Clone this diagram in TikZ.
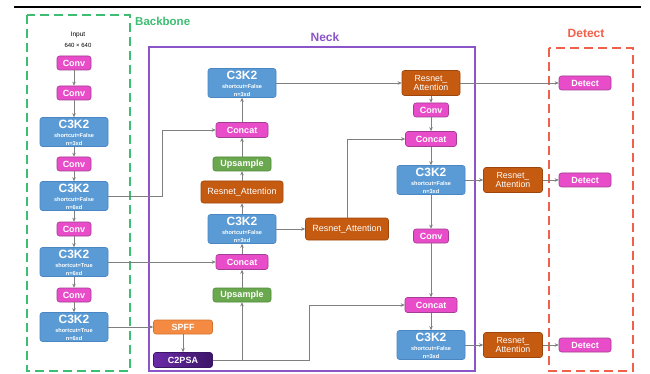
\documentclass[tikz,border=0pt]{standalone}
\usepackage{fontspec}
\setmainfont{Liberation Sans}
\usetikzlibrary{arrows.meta,calc}
\definecolor{cmag}{HTML}{E84CC8}
\definecolor{cmagd}{HTML}{A23C94}
\definecolor{cblue}{HTML}{5B9BD5}
\definecolor{cblued}{HTML}{4A86C2}
\definecolor{cgreen}{HTML}{6AA84F}
\definecolor{cgreend}{HTML}{4E8A38}
\definecolor{cres}{HTML}{C55A11}
\definecolor{cresd}{HTML}{9E470D}
\definecolor{cspff}{HTML}{F58B42}
\definecolor{cspffd}{HTML}{D2742F}
\definecolor{cpsaL}{HTML}{6B2AA8}
\definecolor{cpsaR}{HTML}{3B1566}
\definecolor{cbb}{HTML}{3DBE72}
\definecolor{cneck}{HTML}{8B55C8}
\definecolor{cdet}{HTML}{F0604A}
\definecolor{carr}{HTML}{7F7F7F}
\newcommand{\ckblk}[5]{%
  \node[cbox] (#1) at (#2,#3) {};
  \node[anchor=base, text=white, font=\bfseries\fontsize{12}{12}\selectfont, inner sep=0pt] (#1t) at ($(#1.north)+(0,11)$) {C3K2};
  \node[anchor=base, text=white, font=\bfseries\fontsize{5.6}{6}\selectfont, inner sep=0pt] (#1s) at ($(#1.north)+(0,20)$) {shortcut=#4};
  \node[anchor=base, text=white, font=\bfseries\fontsize{5.6}{6}\selectfont, inner sep=0pt] (#1n) at ($(#1.north)+(0,28.5)$) {n=#5};
}
\begin{document}
\begin{tikzpicture}[x=1pt,y=-1pt,
  box/.style={rounded corners=2.5pt, draw, line width=0.6pt, inner sep=0pt, text=white, font=\bfseries\fontsize{9}{10}\selectfont},
  magbox/.style={box, fill=cmag, draw=cmagd, minimum width=#1, minimum height=14},
  magbox/.default=34,
  cbox/.style={box, fill=cblue, draw=cblued, minimum width=68, minimum height=29},
  upbox/.style={box, fill=cgreen, draw=cgreend, minimum width=58, minimum height=14},
  resbox/.style={box, fill=cres, draw=cresd, font=\fontsize{9}{9.5}\selectfont, align=center},
  arr/.style={draw=carr, line width=0.7pt, -{Stealth[length=4pt,width=3.5pt]}},
  grp/.style={line width=1.4pt},
  ttl/.style={font=\bfseries\fontsize{12}{12}\selectfont, inner sep=0pt}
]
\useasboundingbox (0,0) rectangle (650,374);
\fill[white] (0,0) rectangle (650,374);
\draw[line width=2pt] (14,7) -- (641,7);

% groups
\draw[grp, cbb, dash pattern=on 9pt off 5pt] (27,15) rectangle (130,371);
\draw[line width=1.2pt, cneck] (149,47) rectangle (475,371);
\draw[grp, cdet, dash pattern=on 9pt off 5pt] (549,48) rectangle (633,371);
\node[ttl, text=cbb, font=\bfseries\fontsize{11.5}{12}\selectfont, anchor=west] (lbb) at (135,21) {Backbone};
\node[ttl, text=cneck] (lneck) at (325,37) {Neck};
\node[ttl, text=cdet] (ldet) at (586,33) {Detect};

% backbone
\node[font=\fontsize{6.5}{7}\selectfont, inner sep=0pt] (in1) at (78,35) {Input};
\node[font=\fontsize{6}{7}\selectfont, inner sep=0pt] (in2) at (78,45) {640 × 640};
\node[magbox] (bconv1) at (74,63) {Conv};
\node[magbox] (bconv2) at (74,93) {Conv};
\ckblk{bc1}{74}{132}{False}{3xd}
\node[magbox] (bconv3) at (74,164) {Conv};
\ckblk{bc2}{74}{196}{False}{6xd}
\node[magbox] (bconv4) at (74,229) {Conv};
\ckblk{bc3}{74}{262}{True}{6xd}
\node[magbox] (bconv5) at (74,295) {Conv};
\ckblk{bc4}{74}{327}{True}{6xd}

% neck left column
\ckblk{ntop}{242}{83}{False}{3xd}
\node[magbox=52, minimum height=15] (ncat1) at (242,130) {Concat};
\node[upbox] (nup1) at (242,164) {Upsample};
\node[resbox, minimum width=82, minimum height=22] (nra1) at (242,192) {Resnet\_Attention};
\ckblk{nmid}{242}{229}{False}{3xd}
\node[resbox, minimum width=83, minimum height=22] (nra2) at (347,229) {Resnet\_Attention};
\node[magbox=52, minimum height=15] (ncat2) at (242,262) {Concat};
\node[upbox] (nup2) at (242,295) {Upsample};
\node[box, fill=cspff, draw=cspffd, minimum width=59, minimum height=14] (spff) at (183,327) {SPFF};
\node[box, left color=cpsaL, right color=cpsaR, draw=cpsaR, minimum width=59, minimum height=15] (c2psa) at (183,360) {C2PSA};

% neck right column
\node[resbox, minimum width=58, minimum height=25, text width=56, font=\fontsize{8.8}{9.5}\selectfont] (nra3) at (431,83) {Resnet\_\\Attention};
\node[magbox=35] (nconv1) at (431,110) {Conv};
\node[magbox=51, minimum height=15] (ncat3) at (431,139) {Concat};
\ckblk{nr}{431}{180}{False}{3xd}
\node[magbox=35] (nconv2) at (431,236) {Conv};
\node[magbox=52, minimum height=15] (ncat4) at (431,305) {Concat};
\ckblk{nb}{431}{345}{False}{3xd}

% detect side
\node[resbox, minimum width=59, minimum height=25, text width=57, font=\fontsize{8.8}{9.5}\selectfont] (dra1) at (513,180) {Resnet\_\\Attention};
\node[resbox, minimum width=59, minimum height=25, text width=57, font=\fontsize{8.8}{9.5}\selectfont] (dra2) at (513,345) {Resnet\_\\Attention};
\node[magbox=52] (det1) at (585,83) {Detect};
\node[magbox=52] (det2) at (585,180) {Detect};
\node[magbox=52] (det3) at (585,345) {Detect};

% backbone chain
\draw[arr] (bconv1.south) -- (bconv2.north);
\draw[arr] (bconv2.south) -- (bc1.north);
\draw[arr] (bc1.south) -- (bconv3.north);
\draw[arr] (bconv3.south) -- (bc2.north);
\draw[arr] (bc2.south) -- (bconv4.north);
\draw[arr] (bconv4.south) -- (bc3.north);
\draw[arr] (bc3.south) -- (bconv5.north);
\draw[arr] (bconv5.south) -- (bc4.north);

% backbone to neck
\coordinate (k1) at (162,196);
\draw[arr] (bc2.east) -- (k1) |- (ncat1.west);
\draw[arr] (bc3.east) -- (ncat2.west);
\draw[arr] (bc4.east) -- (spff.west);
\draw[arr] (spff.south) -- (c2psa.north);
\draw[arr] (c2psa.east) -| (nup2.south);
\coordinate (k2) at (309,360);
\draw[arr] (c2psa.east) -- (k2) |- (ncat4.west);

% neck upward
\draw[arr] (nup2.north) -- (ncat2.south);
\draw[arr] (ncat2.north) -- (nmid.south);
\draw[arr] (nmid.north) -- (nra1.south);
\draw[arr] (nra1.north) -- (nup1.south);
\draw[arr] (nup1.north) -- (ncat1.south);
\draw[arr] (ncat1.north) -- (ntop.south);
\draw[arr] (nmid.east) -- (nra2.west);
\draw[arr] (ntop.east) -- (nra3.west);
\draw[arr] (nra2.north) |- (ncat3.west);

% right column
\draw[arr] (nra3.south) -- (nconv1.north);
\draw[arr] (nconv1.south) -- (ncat3.north);
\draw[arr] (ncat3.south) -- (nr.north);
\draw[arr] (nr.south) -- (nconv2.north);
\draw[arr] (nconv2.south) -- (ncat4.north);
\draw[arr] (ncat4.south) -- (nb.north);

% to detect
\draw[arr] (nra3.east) -- (det1.west);
\draw[arr] (nr.east) -- (dra1.west);
\draw[arr] (dra1.east) -- (det2.west);
\draw[arr] (nb.east) -- (dra2.west);
\draw[arr] (dra2.east) -- (det3.west);
\end{tikzpicture}
\end{document}
